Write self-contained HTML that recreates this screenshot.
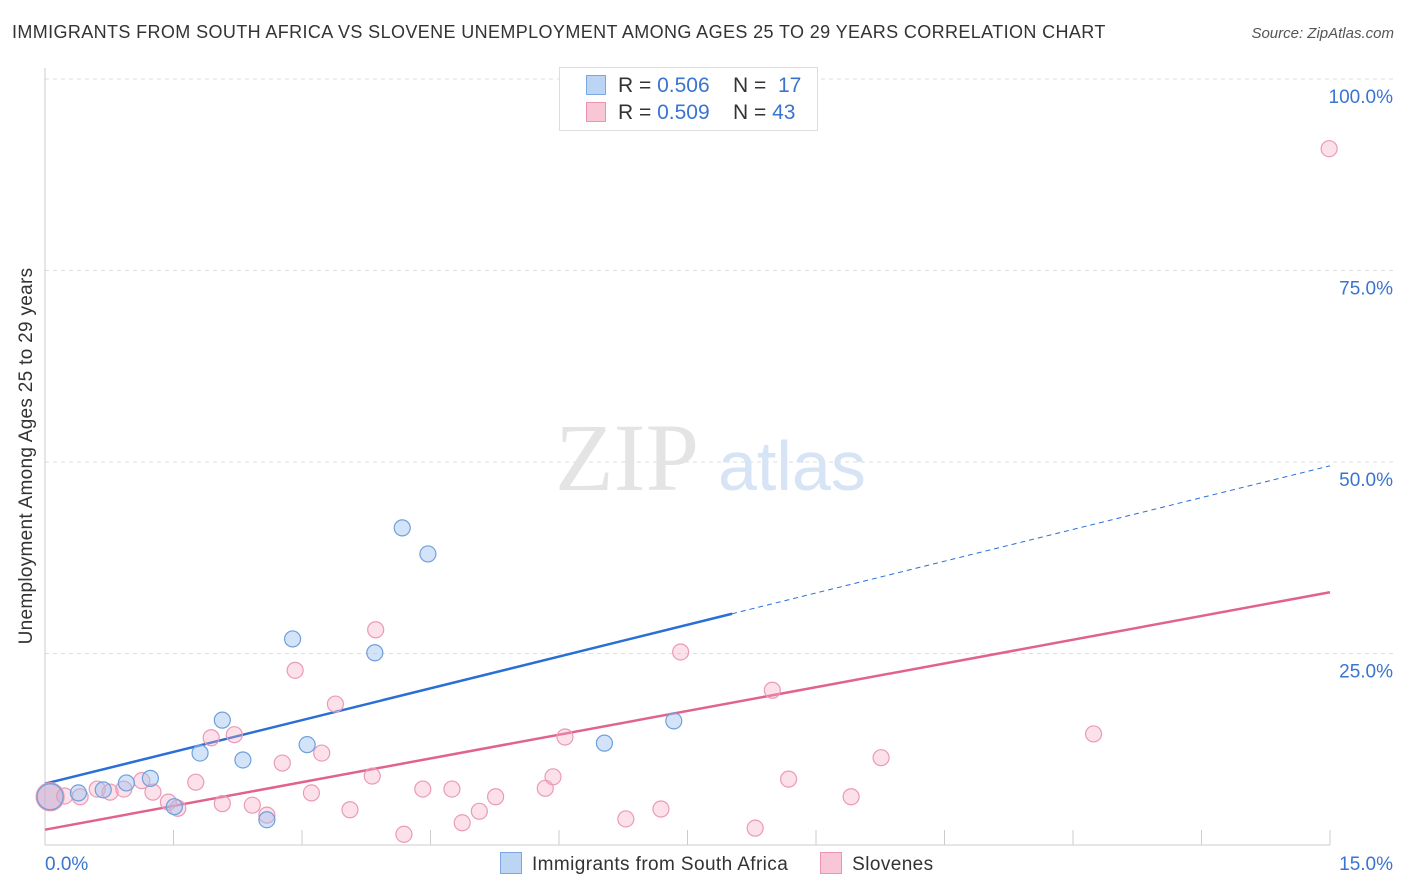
<!DOCTYPE html>
<html><head><meta charset="utf-8"><style>
body{margin:0;background:#fff;font-family:"Liberation Sans",sans-serif}
#wrap{position:relative;width:1406px;height:892px}
.t{position:absolute;white-space:nowrap}
</style></head><body>
<div id="wrap">
<div class="t" style="left:12px;top:22px;font-size:18px;color:#333;letter-spacing:0.38px">IMMIGRANTS FROM SOUTH AFRICA VS SLOVENE UNEMPLOYMENT AMONG AGES 25 TO 29 YEARS CORRELATION CHART</div>
<div class="t" style="right:12px;top:25px;font-size:15px;color:#555;font-style:italic">Source: ZipAtlas.com</div>
<div class="t" style="left:27px;top:456px;font-size:19px;color:#333;letter-spacing:0.3px;transform:translate(-50%,-50%) rotate(-90deg)">Unemployment Among Ages 25 to 29 years</div>
<svg id="svg" width="1406" height="892" style="position:absolute;left:0;top:0"></svg>
<div class="t" style="left:559px;top:67px;width:257px;height:62px;border:1px solid #ddd;background:#fff"></div>
<div class="t" style="left:586px;top:74px;font-size:21px;color:#333"><span style="display:inline-block;width:18px;height:18px;background:#bcd5f5;border:1px solid #7aa7e0;vertical-align:-3px;margin-right:12px"></span>R = <span style="color:#3a74d0">0.506</span>&nbsp;&nbsp;&nbsp; N = &nbsp;<span style="color:#3a74d0">17</span></div>
<div class="t" style="left:586px;top:101px;font-size:21px;color:#333"><span style="display:inline-block;width:18px;height:18px;background:#f9c6d6;border:1px solid #ea94b2;vertical-align:-3px;margin-right:12px"></span>R = <span style="color:#3a74d0">0.509</span>&nbsp;&nbsp;&nbsp; N = <span style="color:#3a74d0">43</span></div>
<div class="t" style="left:500px;top:852px;font-size:19px;color:#333;letter-spacing:0.4px"><span style="display:inline-block;width:20px;height:20px;background:#bcd5f5;border:1px solid #7aa7e0;vertical-align:-4px;margin-right:10px"></span>Immigrants from South Africa<span style="display:inline-block;width:20px;height:20px;background:#f9c6d6;border:1px solid #ea94b2;vertical-align:-4px;margin:0 10px 0 32px"></span>Slovenes</div>
</div>
<script>
const blueX=[0.06,0.39,0.68,0.95,1.23,1.51,1.81,2.07,2.31,2.59,2.89,3.06,3.85,4.17,4.47,6.53,7.34];
const blueY=[6.3,6.8,7.2,8.1,8.7,5.0,12.0,16.3,11.1,3.3,26.9,13.1,25.1,41.4,38.0,13.3,16.2];
const pinkX=[0.06,0.23,0.41,0.61,0.76,0.92,1.13,1.26,1.44,1.55,1.76,1.94,2.07,2.21,2.42,2.59,2.77,2.92,3.11,3.23,3.39,3.56,3.82,3.86,4.19,4.41,4.75,4.87,5.07,5.26,5.84,5.93,6.07,6.78,7.19,7.42,8.29,8.49,8.68,9.41,9.76,12.24,14.99];
const pinkY=[6.3,6.4,6.3,7.3,6.9,7.3,8.4,6.9,5.6,4.8,8.2,14.0,5.4,14.4,5.2,3.9,10.7,22.8,6.8,12.0,18.4,4.6,9.0,28.1,1.4,7.3,7.3,2.9,4.4,6.3,7.4,8.9,14.1,3.4,4.7,25.2,2.2,20.2,8.6,6.3,11.4,14.5,90.9];
const yTicks=[25,50,75,100];
const yTickLabels=["25.0%","50.0%","75.0%","100.0%"];
const xTickLabels=["0.0%","15.0%"];
const blueLine=[8.0,49.5], blueSolidEnd=8.02;
const pinkLine=[2.0,33.0];
const sx=v=>45+v/15*1285, sy=v=>845-v/100*766;
const svg=document.getElementById('svg');const NS='http://www.w3.org/2000/svg';
function mk(t,a){const e=document.createElementNS(NS,t);for(const k in a)e.setAttribute(k,a[k]);svg.appendChild(e);return e;}
let e;
yTicks.forEach((v,i)=>{
 e=mk('line',{x1:45,x2:1393,y1:sy(v),y2:sy(v),stroke:'#ddd','stroke-dasharray':'4,4'});
 
 
 e=mk('text',{x:1393,y:sy(v)+24,'text-anchor':'end','font-size':19,fill:'#3a74d0','font-family':'Liberation Sans'});e.textContent=yTickLabels[i];
 
 
});
e=mk('line',{x1:45,x2:45,y1:68,y2:845,stroke:'#ccc'});


e=mk('line',{x1:45,x2:1330,y1:845,y2:845,stroke:'#ccc'});


for(let i=1;i<=10;i++){e=mk('line',{x1:sx(i*1.5),x2:sx(i*1.5),y1:830,y2:845,stroke:'#ccc'});
 
 }
e=mk('text',{x:45,y:870,'font-size':19,fill:'#3a74d0','font-family':'Liberation Sans'});e.textContent=xTickLabels[0];


e=mk('text',{x:1393,y:870,'text-anchor':'end','font-size':19,fill:'#3a74d0','font-family':'Liberation Sans'});e.textContent=xTickLabels[1];


e=mk('text',{x:555,y:490,'font-size':96,fill:'#e4e4e4','font-family':'Liberation Serif'});e.textContent='ZIP';


e=mk('text',{x:718,y:490,'font-size':70,fill:'#d6e4f5','font-family':'Liberation Sans'});e.textContent='atlas';


const bAt=x=>blueLine[0]+(blueLine[1]-blueLine[0])*x/15;
e=mk('line',{x1:sx(0),y1:sy(bAt(0)),x2:sx(blueSolidEnd),y2:sy(bAt(blueSolidEnd)),stroke:'#2a6fd6','stroke-width':2.5});


e=mk('line',{x1:sx(blueSolidEnd),y1:sy(bAt(blueSolidEnd)),x2:sx(15),y2:sy(bAt(15)),stroke:'#2a6fd6','stroke-width':1,'stroke-dasharray':'5,4'});


e=mk('line',{x1:sx(0),y1:sy(pinkLine[0]),x2:sx(15),y2:sy(pinkLine[1]),stroke:'#e2628e','stroke-width':2.5});


pinkX.forEach((x,i)=>{e=mk('circle',{cx:sx(x),cy:sy(pinkY[i]),r:i==0?14:8,fill:'rgba(245,170,195,0.35)',stroke:'#eb9ab6','stroke-width':1.2});
 
 });
blueX.forEach((x,i)=>{e=mk('circle',{cx:sx(x),cy:sy(blueY[i]),r:i==0?13:8,fill:i==0?'rgba(190,170,210,0.5)':'rgba(160,195,240,0.45)',stroke:'#6f9fdc','stroke-width':1.2});
 
 });
</script>
</body></html>
